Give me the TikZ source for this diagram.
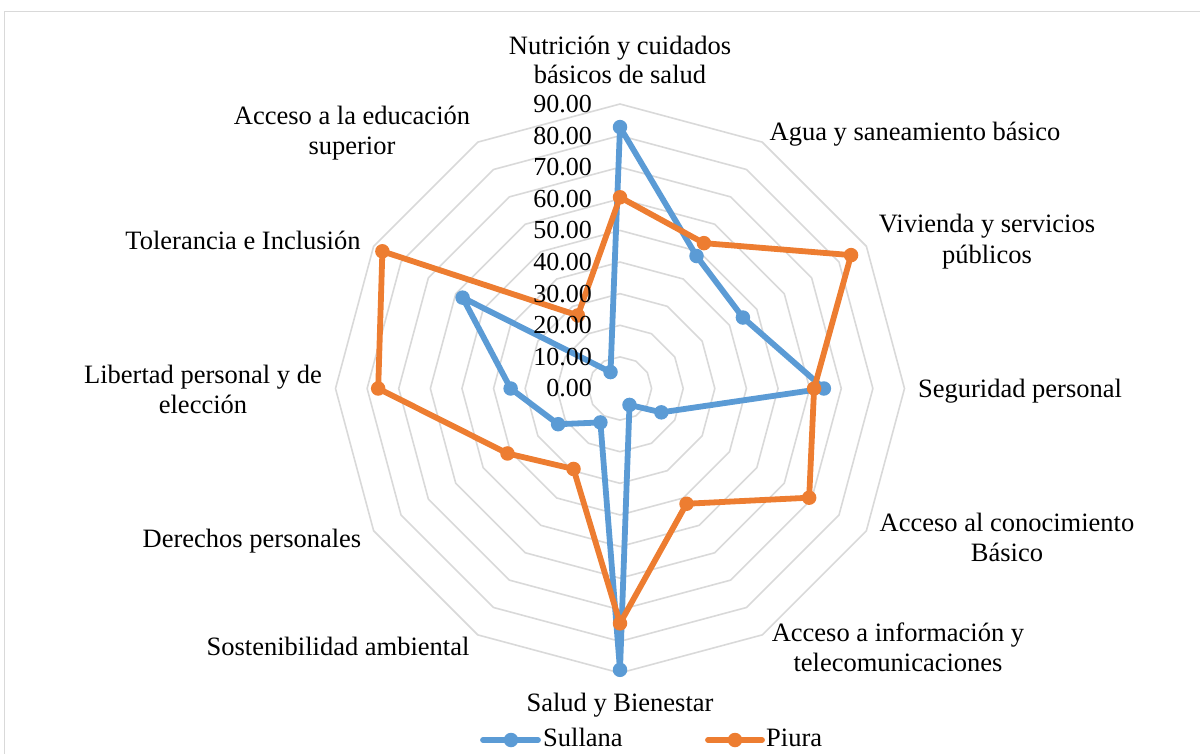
\documentclass[tikz,border=0pt]{standalone}
\usepackage{fontspec}
\setmainfont{Liberation Serif}
\definecolor{sblue}{HTML}{5B9BD5}
\definecolor{porange}{HTML}{ED7D31}
\definecolor{gridgray}{HTML}{D9D9D9}
\begin{document}
\begin{tikzpicture}[x=1pt,y=-1pt,
  txt/.style={font=\fontsize{26.5}{30}\selectfont, inner sep=0pt, anchor=base},
  tick/.style={font=\fontsize{26}{30}\selectfont, inner sep=0pt, anchor=east},
  gridline/.style={draw=gridgray, line width=1.6pt},
  sline/.style={draw=sblue, line width=5.8pt, line join=round},
  pline/.style={draw=porange, line width=5.8pt, line join=round},
  smark/.style={circle, fill=sblue, inner sep=0pt, minimum size=14.5pt},
  pmark/.style={circle, fill=porange, inner sep=0pt, minimum size=14.5pt}]
\useasboundingbox (0,0) rectangle (1200,754);
\draw[gridgray, line width=1.5pt] (1200,11.5) -- (4.5,11.5) -- (4.5,754);
\begin{scope}[shift={(620,388.5)}]
  \foreach \k in {1,...,9}{
    \draw[gridline] (-90:{\k*31.61}) \foreach \i in {1,...,11}{ -- ({-90+30*\i}:{\k*31.61}) } -- cycle;
  }
  \foreach \v [count=\i from 0] in {82.7,48.4,44.9,64.5,15.1,6.0,89.0,12.4,22.6,34.6,57.5,6.0}
    \coordinate (s\i) at ({-90+30*\i}:{\v*3.161});
  \foreach \v [count=\i from 0] in {60.5,53.1,84.4,61.4,69.1,42.1,74.3,29.4,41.1,76.5,86.8,26.7}
    \coordinate (p\i) at ({-90+30*\i}:{\v*3.161});
  \draw[sline] (s0) \foreach \i in {1,...,11}{ -- (s\i) } -- cycle;
  \foreach \i in {0,...,11} \node[smark] (sm\i) at (s\i) {};
  \draw[pline] (p0) \foreach \i in {1,...,11}{ -- (p\i) } -- cycle;
  \foreach \i in {0,...,11} \node[pmark] (pm\i) at (p\i) {};
\end{scope}
\foreach \v in {0,10,...,90}
  \node[tick] (t\v) at (592,{388.5-\v*3.161}) {\v.00};
% category labels
\node[txt] (l0a) at (620,55) {Nutrición y cuidados};
\node[txt] (l0b) at (620,84) {básicos de salud};
\node[txt] (l1) at (915,141) {Agua y saneamiento básico};
\node[txt] (l2a) at (987,233) {Vivienda y servicios};
\node[txt] (l2b) at (987,264) {públicos};
\node[txt] (l3) at (1020,397) {Seguridad personal};
\node[txt] (l4a) at (1007,531) {Acceso al conocimiento};
\node[txt] (l4b) at (1007,561) {Básico};
\node[txt] (l5a) at (898,641) {Acceso a información y};
\node[txt] (l5b) at (898,671) {telecomunicaciones};
\node[txt] (l6) at (620,711) {Salud y Bienestar};
\node[txt] (l7) at (338,655) {Sostenibilidad ambiental};
\node[txt] (l8) at (252,547) {Derechos personales};
\node[txt] (l9a) at (203,383) {Libertad personal y de};
\node[txt] (l9b) at (203,413) {elección};
\node[txt] (l10) at (243,250) {Tolerancia e Inclusión};
\node[txt] (l11a) at (352,125) {Acceso a la educación};
\node[txt] (l11b) at (352,155) {superior};
% legend
\coordinate (ls1) at (483,740); \coordinate (ls2) at (538,740);
\draw[sline, line cap=round] (ls1) -- (ls2);
\node[smark] (lsm) at (511,740) {};
\node[txt, anchor=base west] (lst) at (543,746) {Sullana};
\coordinate (lp1) at (708,740); \coordinate (lp2) at (762,740);
\draw[pline, line cap=round] (lp1) -- (lp2);
\node[pmark] (lpm) at (735,740) {};
\node[txt, anchor=base west] (lpt) at (766,746) {Piura};
\end{tikzpicture}
\end{document}
